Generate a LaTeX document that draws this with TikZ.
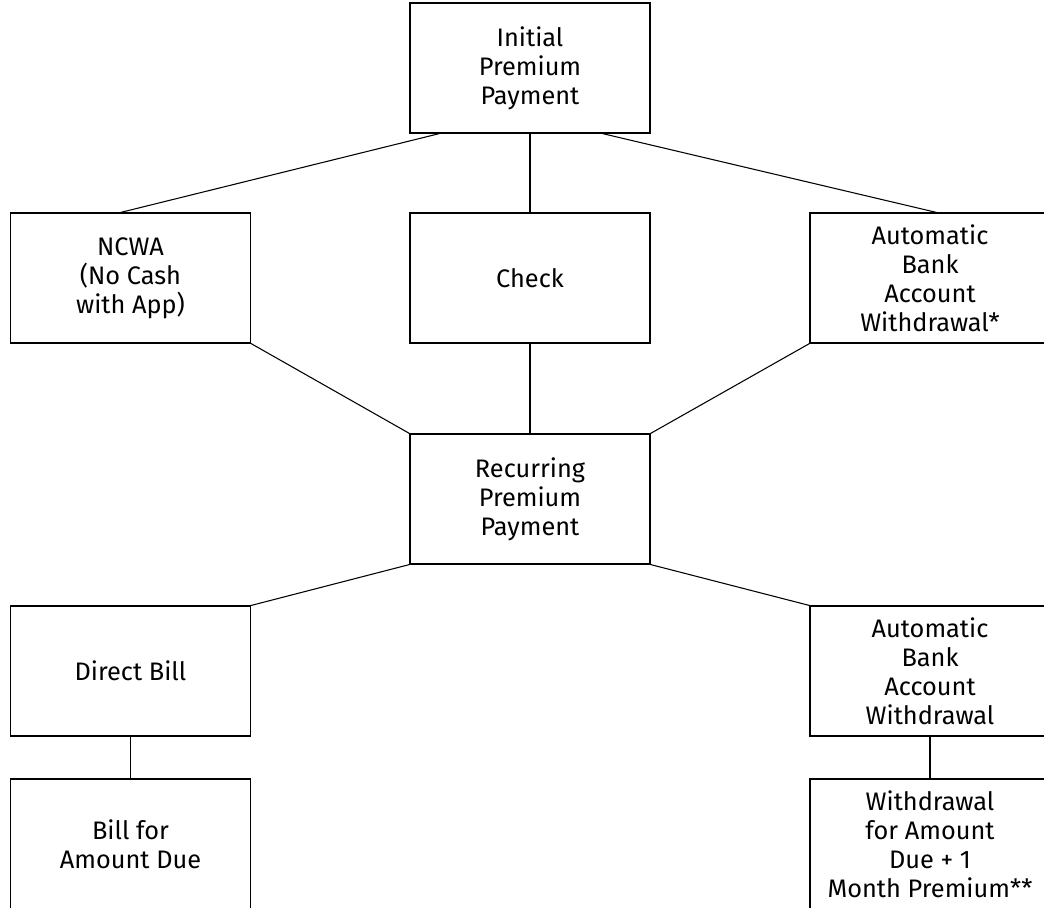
\documentclass[tikz,border=0pt]{standalone}
\usepackage{fontspec}
\setmainfont{Fira Sans}
\usetikzlibrary{positioning,calc}
\tikzset{%
  every box/.style={
    rectangle,
    draw,
    line width=0.8pt,
    minimum width=180pt,
    minimum height=97.5pt,
    align=center,
    font=\fontsize{19}{21.75}\selectfont
  },
  link/.style={
    line width=0.8pt
  },
}

\begin{document}
\begin{tikzpicture}[x=0.75pt, y=-0.75pt]
        \useasboundingbox (0,0) rectangle (1044,907);
        \clip (0,0) rectangle (1044,907);

        \node [every box] (initial) at (530,68) {Initial\\Premium\\Payment};
        \node [every box] (ncwa) at (130.5,278) {NCWA\\(No Cash\\with App)};
        \node [every box] (check) at (530,278) {Check};
        \node [every box] (autoinit) at (930,278) {Automatic\\Bank\\Account\\Withdrawal*};
        \node [every box] (recurring) at (530,499) {Recurring\\Premium\\Payment};
        \node [every box] (direct) at (130.5,671) {Direct Bill};
        \node [every box] (autorec) at (930,671) {Automatic\\Bank\\Account\\Withdrawal};
        \node [every box] (bill) at (130.5,844) {Bill for\\Amount Due};
        \node [every box] (withdraw) at (930,844) {Withdrawal\\for Amount\\Due + 1\\Month Premium**};

        % from the initial payment
        \draw [link] ($(initial.south west)!0.125!(initial.south east)$) -- ([xshift=-7.5pt]ncwa.north);
        \draw [link] ($(initial.south west)!0.8!(initial.south east)$) -- ([xshift=5pt]autoinit.north);

        \foreach \a/\b in {initial.south/check.north,
                           ncwa.south east/recurring.north west,
                           check.south/recurring.north,
                           autoinit.south west/recurring.north east,
                           recurring.south west/direct.north east,
                           recurring.south east/autorec.north west,
                           direct.south/bill.north,
                           autorec.south/withdraw.north}
            \draw [link] (\a) -- (\b);
\end{tikzpicture}
\end{document}
